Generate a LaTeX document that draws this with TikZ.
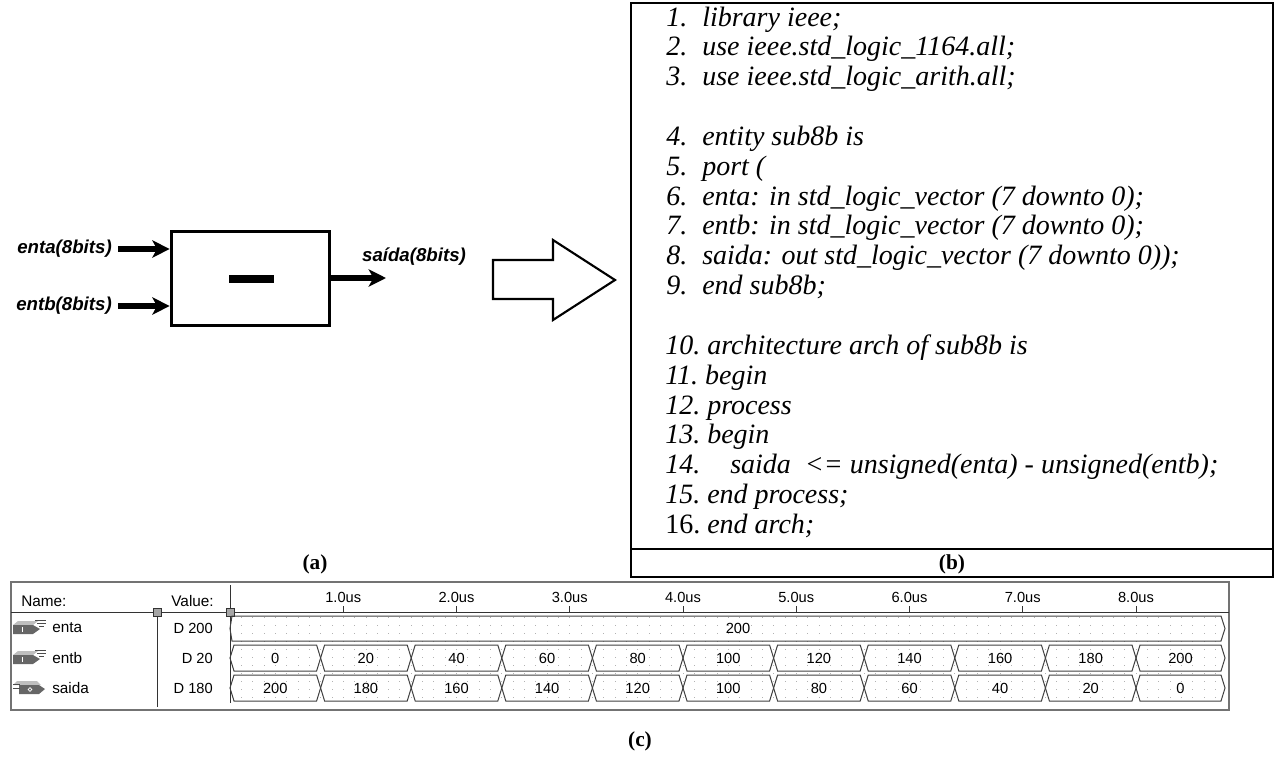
\documentclass[tikz,border=0pt]{standalone}
\usepackage{fontspec}
\setmainfont{Liberation Serif}
\newfontfamily\arialfont{Liberation Sans}
\usetikzlibrary{arrows.meta}

\newcommand\codefont{\fontsize{21}{21}\selectfont}
\newcommand\wavefont{\arialfont\fontsize{11.5}{11.5}\selectfont}
\newcommand\wavenum{\arialfont\fontsize{11}{11}\selectfont}

\begin{document}
\begin{tikzpicture}[x=0.75pt,y=-0.75pt,
  busarrow/.style={line width=4.5pt,-{Stealth[length=13pt,width=13pt,inset=3.5pt]}},
  portlabel/.style={font=\arialfont\bfseries\itshape\fontsize{14}{14}\selectfont, inner sep=0},
  codetxt/.style={anchor=base west, inner sep=0, font=\codefont\itshape},
  caption/.style={font=\bfseries\fontsize{16}{16}\selectfont, inner sep=0},
  wtext/.style={font=\wavefont, inner sep=0},
  wnum/.style={font=\wavenum, inner sep=0},
  bus/.style={draw=black!75, line width=0.75pt},
  grid/.style={draw=black!30, line width=0.6pt, dash pattern=on 0.75pt off 5.25pt},
  handle/.style={draw=black!80, fill=black!35, line width=0.6pt, minimum size=6pt, inner sep=0},
]
\useasboundingbox (0,0) rectangle (1280,764);

% ---------------- (a) block symbol ----------------
\node (sub) [draw, line width=2.25pt, minimum width=119pt, minimum height=70.5pt, inner sep=0] at (250.5,278) {};
\node (minus) [fill=black, minimum width=33.75pt, minimum height=6pt, inner sep=0] at (251.5,279) {};

\coordinate (ina) at (118,249);
\coordinate (inb) at (118,306);
\coordinate (outy) at (386,278);
\draw[busarrow] (ina) -- (sub.west |- ina);
\draw[busarrow] (inb) -- (sub.west |- inb);
\draw[busarrow] (sub.east |- outy) -- (outy);

\node (la) [portlabel, anchor=east] at (112,249) {enta(8bits)};
\node (lb) [portlabel, anchor=east] at (112,306) {entb(8bits)};
\node (lo) [portlabel] at (414,257) {saída(8bits)};

% hollow arrow pointing to the code
\draw[line width=1.6pt, line join=miter]
  (493,260) -- (553,260) -- (553,240) -- (615,280) -- (553,320) -- (553,299) -- (493,299) -- cycle;

\node (capa) [caption] at (315,564) {(a)};

% ---------------- (b) VHDL listing ----------------
\draw[line width=1.9pt] (631,3) rectangle (1273,577);
\draw[line width=1.5pt] (631,549) -- (1273,549);
\node (capb) [caption] at (952,564) {(b)};

% single-digit lines: number and text on a common tab stop
\foreach \n/\slot/\txt in {
  1/0/{library ieee;},
  2/1/{use ieee.std\_logic\_1164.all;},
  3/2/{use ieee.std\_logic\_arith.all;},
  4/4/{entity sub8b is},
  5/5/{port (},
  6/6/{enta: in std\_logic\_vector (7 downto 0);},
  7/7/{entb: in std\_logic\_vector (7 downto 0);},
  8/8/{saida: out std\_logic\_vector (7 downto 0));},
  9/9/{end sub8b;}}{
  \pgfmathsetmacro\yb{26+29.85*\slot}
  \node (num\n) [codetxt] at (666,\yb) {\n.};
  \node (line\n) [codetxt] at (702,\yb) {\txt};
}
% two-digit lines: text follows the number
\foreach \n/\slot/\txt in {
  10/11/{architecture arch of sub8b is},
  11/12/{begin},
  12/13/{process},
  13/14/{begin},
  15/16/{end process;}}{
  \pgfmathsetmacro\yb{26+29.85*\slot}
  \node (line\n) [codetxt] at (665,\yb) {\n.\ \txt};
}
\node (num14) [codetxt] at (665,473.8) {14.};
\node (line14) [codetxt] at (730,473.8) {saida\ \ <= unsigned(enta) - unsigned(entb);};
\node (line16) [codetxt] at (665,533.5) {\upshape 16.\ \itshape end arch;};

% ---------------- (c) simulation waveform ----------------
\draw[draw=black!55, line width=1.5pt] (11,582) rectangle (1229,710);
\draw[black!80, line width=0.75pt] (11,612) -- (1229,612);
\draw[black!80, line width=0.75pt] (157,612) -- (157,707);
\draw[black!80, line width=0.75pt] (230,585) -- (230,703);

\node (hname) [wtext, anchor=west] at (21,601) {Name:};
\node (hval) [wtext, anchor=east] at (214,601) {Value:};

% dotted time grid
\foreach \k in {1,...,87}{
  \draw[grid] (230+11.325*\k,617) -- (230+11.325*\k,702);
}

% time scale
\foreach \k in {1,...,8}{
  \pgfmathsetmacro\xt{230+113.25*\k}
  \node (t\k) [wnum] at (\xt,597) {\k.0us};
  \draw[black!80, line width=0.75pt] (\xt,606) -- (\xt,612);
}

\node (h1) [handle] at (157,612) {};
\node (h2) [handle] at (230,612) {};

% signal names with pin icons
\foreach \r/\nm/\ym in {1/enta/628, 2/entb/658, 3/saida/688}{
  \node (sig\r) [wtext, anchor=west] at (52,\ym) {\nm};
}
\foreach \ym in {628,658}{
  \begin{scope}[shift={(13,\ym)}]
    \fill[black!25] (0,-3) -- (5,-7) -- (25,-7) -- (20,-3) -- cycle;
    \fill[black!60] (0,-3) -- (20,-3) -- (27,1) -- (20,6) -- (0,6) -- cycle;
    \draw[white, line width=0.6pt] (9,-1) -- (9,4);
    \draw[black!70, line width=0.75pt] (22,-8) -- (33,-8) (24,-5) -- (33,-5) (26,-2) -- (31,-2);
  \end{scope}
}
\begin{scope}[shift={(13,688)}]
  \fill[black!25] (0,-3) -- (4,-7) -- (24,-7) -- (28,-3) -- cycle;
  \fill[black!60] (6,-3) -- (26,-3) -- (32,1) -- (26,6) -- (6,6) -- cycle;
  \draw[black!70, line width=0.75pt] (0,-4) -- (7,-4) (0,0) -- (7,0);
  \draw[white, line width=0.5pt] (17,1.5) circle (1.8);
\end{scope}

\node (val1) [wnum, anchor=east] at (213,628) {D 200};
\node (val2) [wnum, anchor=east] at (213,658) {D 20};
\node (val3) [wnum, anchor=east] at (213,688) {D 180};

% enta: constant bus
\draw[bus] (230,628.5) -- (232,616) -- (1221,616) -- (1225,628.5) -- (1221,641) -- (232,641) -- cycle;
\node (wa) [wnum] at (738,628) {200};

% entb and saida: stepping buses
\foreach \i/\va/\vb in {0/0/200,1/20/180,2/40/160,3/60/140,4/80/120,5/100/100,
                         6/120/80,7/140/60,8/160/40,9/180/20,10/200/0}{
  \pgfmathsetmacro\xa{230+90.6*\i}
  \pgfmathsetmacro\xb{\i<10 ? 230+90.6*(\i+1) : 1225}
  \pgfmathsetmacro\xc{(\xa+\xb)/2}
  \draw[bus] (\xa,658) -- (\xa+4,645) -- (\xb-4,645) -- (\xb,658) -- (\xb-4,671) -- (\xa+4,671) -- cycle;
  \draw[bus] (\xa,688) -- (\xa+4,675) -- (\xb-4,675) -- (\xb,688) -- (\xb-4,701) -- (\xa+4,701) -- cycle;
  \node (wb\i) [wnum] at (\xc,658) {\va};
  \node (ws\i) [wnum] at (\xc,688) {\vb};
}

\node (capc) [caption] at (640,741) {(c)};
\end{tikzpicture}
\end{document}
